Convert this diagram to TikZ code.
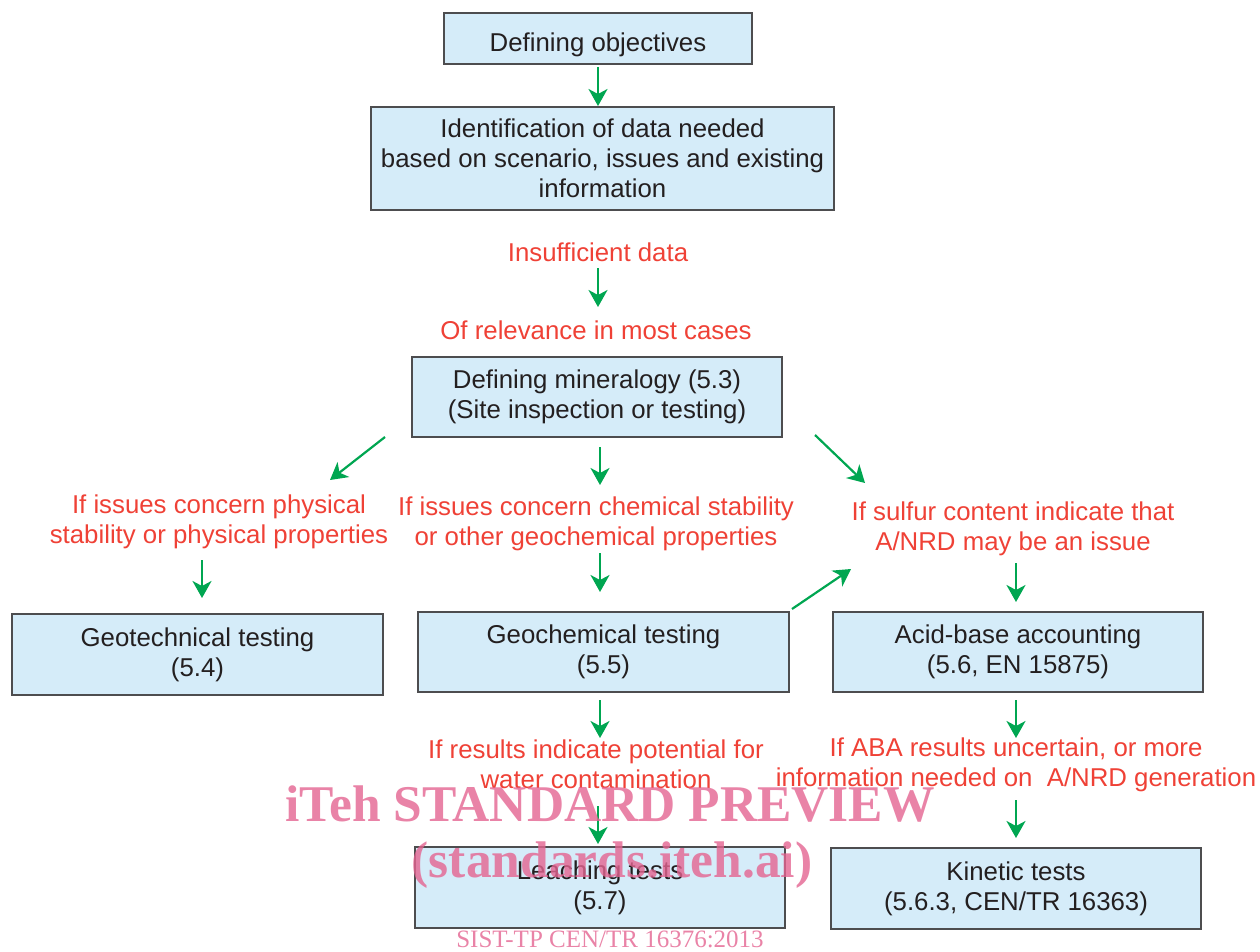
\documentclass[tikz,border=0pt]{standalone}
\usepackage{fontspec}
\setmainfont{Liberation Sans}
\newfontfamily\wmfont{Liberation Serif}
\usetikzlibrary{arrows.meta}
\definecolor{boxfill}{HTML}{D5ECF9}
\definecolor{boxline}{HTML}{4D4D4F}
\definecolor{txt}{HTML}{231F20}
\definecolor{redtxt}{HTML}{EF4136}
\definecolor{grn}{HTML}{00A651}
\definecolor{wm}{RGB}{228,100,145}
\begin{document}
\begin{tikzpicture}[x=1pt,y=-1pt,
 box/.style={draw=boxline, line width=1.2pt, fill=boxfill, text=txt, align=center,
   font=\fontsize{25.8}{30}\selectfont, inner sep=0pt, anchor=center},
 lbl/.style={text=redtxt, align=center, font=\fontsize{25.8}{30}\selectfont, inner sep=0pt},
 arr/.style={draw=grn, line width=2.2pt, -{Stealth[length=17pt,width=19pt,inset=5pt]}},
 wmark/.style={text=wm, text opacity=0.8, inner sep=0pt}]
\useasboundingbox (0,0) rectangle (1260,952);

% boxes
\node[box, minimum width=308, minimum height=51, text height=27pt, text depth=0pt] (obj) at (598,38.5) {Defining objectives};
\node[box, minimum width=463, minimum height=103] (ident) at (602.5,158.5)
  {Identification of data needed\\based on scenario, issues and existing\\information};
\node[box, minimum width=370, minimum height=80] (mineral) at (597,397)
  {Defining mineralogy (5.3)\\(Site inspection or testing)};
\node[box, minimum width=371, minimum height=81] (geotech) at (197.5,654.5)
  {Geotechnical testing\\(5.4)};
\node[box, minimum width=371, minimum height=80] (geochem) at (603.5,652)
  {Geochemical testing\\(5.5)};
\node[box, minimum width=370, minimum height=80] (aba) at (1018,652)
  {Acid-base accounting\\(5.6, EN 15875)};
\node[box, minimum width=370, minimum height=81] (leach) at (600,887.5)
  {Leaching tests\\(5.7)};
\node[box, minimum width=370, minimum height=81] (kinetic) at (1016,888.5)
  {Kinetic tests\\(5.6.3, CEN/TR 16363)};

% red labels
\node[lbl] (insuff) at (598,252) {Insufficient data};
\node[lbl] (relev) at (596,330) {Of relevance in most cases};
\node[lbl] (phys) at (219,522) {If issues concern physical\\stability or physical properties};
\node[lbl] (chem) at (596,524) {If issues concern chemical stability\\or other geochemical properties};
\node[lbl] (sulf) at (1013,529) {If sulfur content indicate that\\A/NRD may be an issue};
\node[lbl] (pot) at (596,764) {If results indicate potential for\\water contamination};
\node[lbl] (abaun) at (1016,765) {If ABA results uncertain, or more\\information needed on~ A/NRD generation};

% arrow end points
\coordinate (a1s) at (598,67);   \coordinate (a1e) at (598,106);
\coordinate (a2s) at (598,268);  \coordinate (a2e) at (598,307);
\coordinate (a3s) at (385,437);  \coordinate (a3e) at (330,480);
\coordinate (a4s) at (600,447);  \coordinate (a4e) at (600,485);
\coordinate (a5s) at (815,435);  \coordinate (a5e) at (865,483);
\coordinate (a6s) at (202,560);  \coordinate (a6e) at (202,598);
\coordinate (a7s) at (600,553);  \coordinate (a7e) at (600,592);
\coordinate (a8s) at (1016,563); \coordinate (a8e) at (1016,602);
\coordinate (a9s) at (792,609);  \coordinate (a9e) at (851,569);
\coordinate (a10s) at (600,700); \coordinate (a10e) at (600,738);
\coordinate (a11s) at (1016,700);\coordinate (a11e) at (1016,738);
\coordinate (a12s) at (598,806); \coordinate (a12e) at (598,844);
\coordinate (a13s) at (1016,800);\coordinate (a13e) at (1016,838);

\foreach \i in {1,...,13} \draw[arr] (a\i s) -- (a\i e);

% watermark
\node[wmark, font=\wmfont\bfseries\fontsize{51.5}{51.5}\selectfont] (wm1) at (610,804) {iTeh STANDARD PREVIEW};
\node[wmark, font=\wmfont\bfseries\fontsize{51.5}{51.5}\selectfont] (wm2) at (612,865) {(standards.iteh.ai)};
\node[wmark, font=\wmfont\fontsize{25}{25}\selectfont] (wm3) at (610,939) {SIST-TP CEN/TR 16376:2013};
\end{tikzpicture}
\end{document}
